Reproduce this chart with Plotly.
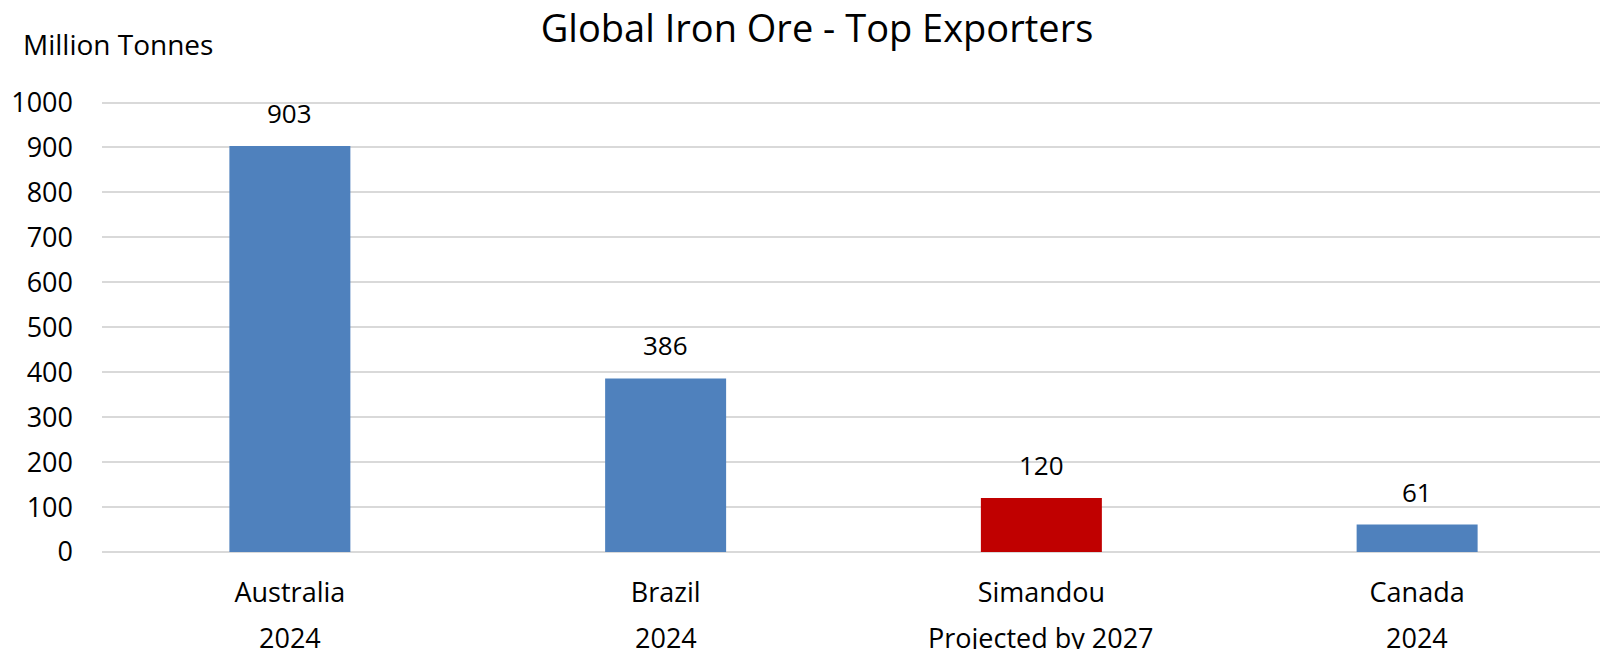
import plotly.graph_objects as go

countries = ['Australia', 'Brazil', 'Simandou', 'Canada']
periods = ['2024', '2024', 'Projected by 2027', '2024']
exports = [903, 386, 120, 61]
bar_colors = ['#4F81BD', '#4F81BD', '#C00000', '#4F81BD']
y_ticks = [0, 100, 200, 300, 400, 500, 600, 700, 800, 900, 1000]

FONT = 'Open Sans'
PAD = 8  # default body margin of the html page
W, H = 1608 - PAD, 649 - PAD
L, R, T, B = 102 - PAD, 3, 98 - PAD, 97
plot_w, plot_h = W - L - R, H - T - B

fig = go.Figure()

fig.add_trace(go.Bar(x=countries,
                     y=exports,
                     marker=dict(color=bar_colors, line=dict(width=0)),
                     width=0.322,
                     showlegend=False,
                     hoverinfo='x+y'))

# data labels above the bars
for name, value in zip(countries, exports):
    fig.add_annotation(x=name, y=value, text=str(value),
                       showarrow=False, yanchor='middle', yshift=33,
                       font=dict(family=FONT, size=26, color='black'))

# second line of the category labels
for name, period in zip(countries, periods):
    fig.add_annotation(x=name, y=0, yref='paper', text=period,
                       showarrow=False, yanchor='middle', yshift=-85,
                       font=dict(family=FONT, size=27, color='black'))

# axis unit label, top left
fig.add_annotation(x=(21 - PAD - L) / plot_w, y=(H - B - (44 - PAD)) / plot_h,
                   xref='paper', yref='paper', text='Million Tonnes',
                   showarrow=False, xanchor='left', yanchor='middle',
                   font=dict(family=FONT, size=28, color='black'))

fig.update_layout(
    width=W, height=H,
    margin=dict(l=L, r=R, t=T, b=B),
    paper_bgcolor='white', plot_bgcolor='white',
    title=dict(text='Global Iron Ore - Top Exporters', x=(817 - PAD) / W, xanchor='center',
               y=1 - (29 - PAD) / H, yanchor='middle',
               font=dict(family=FONT, size=38, color='black')),
    font=dict(family=FONT, color='black'),
)

fig.update_xaxes(tickfont=dict(family=FONT, size=27, color='black'),
                 ticklabelstandoff=22, showgrid=False, showline=False,
                 range=[-0.5, 3.5], automargin=False)
fig.update_yaxes(range=[0, 1010], tickvals=y_ticks,
                 tickfont=dict(family=FONT, size=27, color='black'),
                 ticklabelstandoff=28,
                 showgrid=True, gridcolor='#D9D9D9', gridwidth=1.5,
                 zeroline=True, zerolinecolor='#D9D9D9', zerolinewidth=1.5,
                 showline=False, automargin=False)

fig.write_html('out.html')
